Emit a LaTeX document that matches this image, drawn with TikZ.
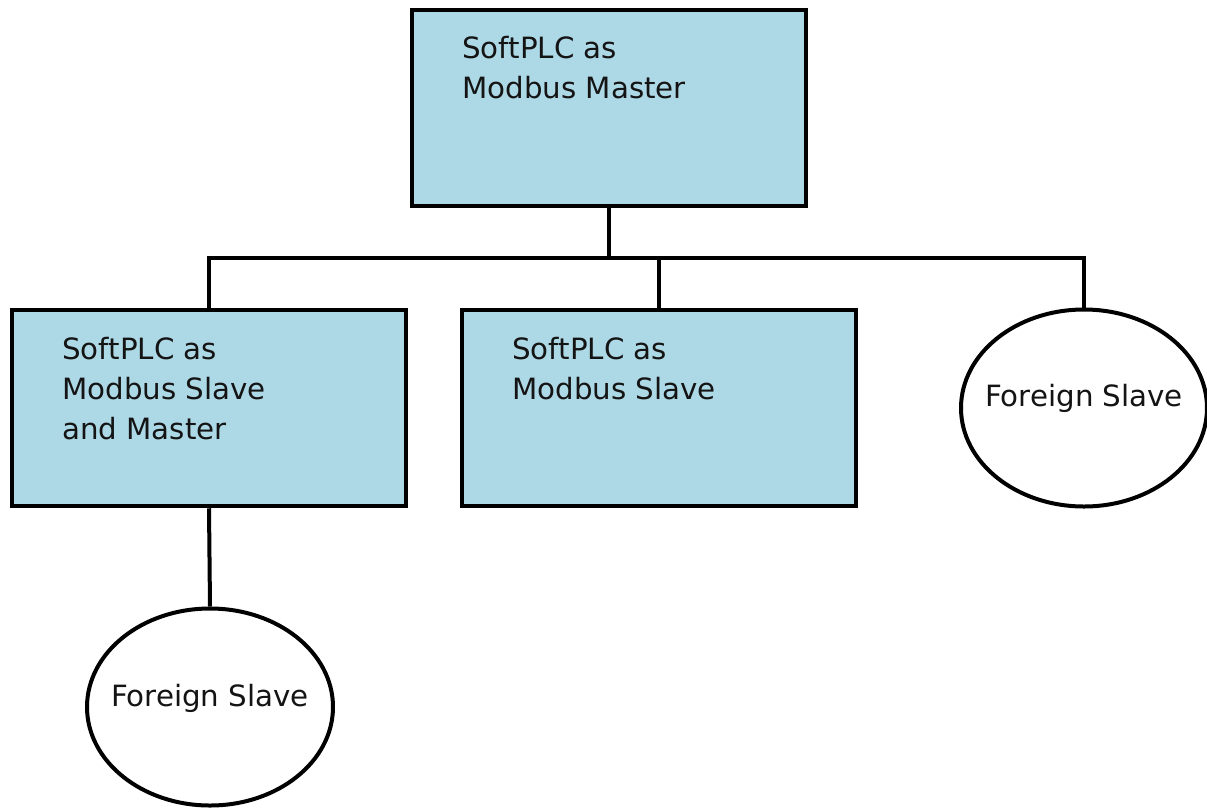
\documentclass[tikz,border=0pt]{standalone}
\usepackage{fontspec}
\setmainfont{DejaVu Sans}
\usetikzlibrary{shapes.geometric}
\definecolor{boxfill}{RGB}{173,216,230}
\definecolor{inkgray}{RGB}{20,20,20}

\begin{document}
\begin{tikzpicture}[x=1pt,y=-1pt,
  unit/.style={rectangle, draw=black, line width=4.5pt, fill=boxfill,
    minimum width=394pt, minimum height=196pt, inner sep=0pt},
  device/.style={ellipse, draw=black, line width=4pt, fill=white,
    minimum width=246pt, minimum height=197pt, inner sep=0pt},
  caption/.style={inner sep=0pt, align=left, text=inkgray,
    font=\fontsize{29.3}{40}\selectfont},
  wire/.style={line width=4pt, line join=miter}
]
\useasboundingbox (0,0) rectangle (1207,809);

% devices
\node[unit] (master) at (609,108) {};
\node[unit] (combo)  at (209,408) {};
\node[unit] (slave)  at (659,408) {};
\node[device] (foreignA) at (1084,408) {};
\node[device] (foreignB) at (210,707) {};

% captions
\node[caption, anchor=north west] (masterText) at (462,36) {SoftPLC as\\Modbus Master};
\node[caption, anchor=north west] (comboText)  at (62,337) {SoftPLC as\\Modbus Slave\\and Master};
\node[caption, anchor=north west] (slaveText)  at (512,337) {SoftPLC as\\Modbus Slave};
\node[caption, anchor=base] (foreignAText) at ([yshift=1.5pt]foreignA.center) {Foreign Slave};
\node[caption, anchor=base] (foreignBText) at ([yshift=0.5pt]foreignB.center) {Foreign Slave};

% bus
\coordinate (bus) at (0,258);
\draw[wire] (combo.north) -- (combo.north |- bus) -- (foreignA.north |- bus) -- (foreignA.north);
\draw[wire] (master.south) -- (master.south |- bus);
\draw[wire] (slave.north) -- (slave.north |- bus);
\draw[wire] (combo.south) -- (foreignB.north);
\end{tikzpicture}
\end{document}
